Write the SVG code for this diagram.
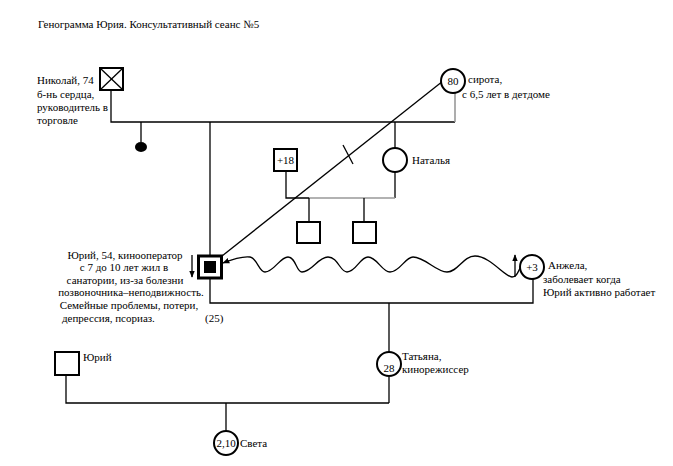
<svg xmlns="http://www.w3.org/2000/svg" width="673" height="466" viewBox="0 0 673 466">
<defs>
<style>
text{font-family:"Liberation Serif","DejaVu Serif",serif;font-size:11px;fill:#000}
.c{text-anchor:middle}
.n{fill:#fff;stroke:#000;stroke-width:2}
.l{fill:none;stroke:#000;stroke-width:1.3}
.g{fill:none;stroke:#999;stroke-width:1.6}
</style>
<marker id="ah" viewBox="0 0 10 10" refX="9" refY="5" markerWidth="7" markerHeight="7" orient="auto-start-reverse" markerUnits="userSpaceOnUse">
<path d="M0,1 L10,5 L0,9 Z" fill="#000"/>
</marker>
</defs>
<rect width="673" height="466" fill="#fff"/>
<g font-family="Liberation Serif, DejaVu Serif, serif" font-size="11">
<text x="38" y="28">Генограмма Юрия. Консультативный сеанс №5</text>

<g id="connectors">
<polyline class="l" points="111,90 111,122 455,122"/>
<line class="g" x1="455" y1="93" x2="455" y2="122"/>
<line class="l" x1="141" y1="122" x2="141" y2="142"/>
<line class="l" x1="210" y1="122" x2="210" y2="255"/>
<line class="l" x1="395" y1="122" x2="395" y2="148"/>
<line class="l" x1="395" y1="172" x2="395" y2="198"/>
<polyline class="l" points="286,171 286,198 309,198"/>
<line class="g" x1="309" y1="198" x2="395" y2="198"/>
<line class="l" x1="309" y1="198" x2="309" y2="222"/>
<line class="l" x1="364" y1="198" x2="364" y2="222"/>
<line class="l" x1="443" y1="81" x2="222" y2="256"/>
<line class="l" x1="343" y1="145" x2="353" y2="164"/>
<path class="l" marker-start="url(#ah)" d="M223,263 C233,259 242,256 250,257 C257,258 259,272 265,272 C274,272 280,257 288,257 C296,257 296,272 302,272 C312,272 318,257 328,257 C338,257 340,272 347,272 C356,272 360,257 368,257 C377,257 382,272 390,272 C400,272 405,257 413,257 C425,257 436,272 447,272 C458,272 463,256 475,256 C490,256 505,277 512,277 C517,277 518,272 520,268"/>
<line class="l" marker-end="url(#ah)" x1="192" y1="255" x2="192" y2="277"/>
<line class="l" marker-end="url(#ah)" x1="515" y1="277" x2="515" y2="255"/>
<polyline class="l" points="210,278 210,303 533,303 533,279"/>
<line class="l" x1="389" y1="303" x2="389" y2="352"/>
<line class="l" x1="389" y1="377" x2="389" y2="403"/>
<polyline class="l" points="66,375 66,403 389,403"/>
<line class="l" x1="226" y1="403" x2="226" y2="432"/>
</g>

<g id="nikolai">
<rect class="n" x="100" y="68" width="23" height="22"/>
<line class="l" x1="100" y1="68" x2="123" y2="90"/>
<line class="l" x1="123" y1="68" x2="100" y2="90"/>
<text x="37" y="84">Николай, 74</text>
<text x="37" y="98">б-нь сердца,</text>
<text x="37" y="111">руководитель в</text>
<text x="37" y="124">торговле</text>
</g>

<g id="miscarriage">
<ellipse cx="141" cy="147" rx="6" ry="5" fill="#000"/>
</g>

<g id="grandmother">
<circle class="n" cx="453" cy="81" r="12"/>
<text class="c" x="453" y="85">80</text>
<text x="468" y="83">сирота,</text>
<text x="462" y="98">с 6,5 лет в детдоме</text>
</g>

<g id="plus18">
<rect class="n" x="274" y="149" width="23" height="22"/>
<text class="c" x="285.5" y="164">+18</text>
</g>

<g id="natalya">
<circle class="n" cx="395" cy="160" r="12"/>
<text x="412" y="164">Наталья</text>
</g>

<g id="child1">
<rect class="n" x="297" y="222" width="23" height="21"/>
</g>
<g id="child2">
<rect class="n" x="353" y="222" width="23" height="21"/>
</g>

<g id="yuri">
<rect x="198.5" y="256" width="23" height="22" fill="#fff" stroke="#000" stroke-width="3"/>
<rect x="204" y="261" width="12" height="12" fill="#000"/>
<text class="c" x="125" y="259">Юрий, 54, кинооператор</text>
<text class="c" x="124" y="271">с 7 до 10 лет жил в</text>
<text class="c" x="125" y="284">санатории, из-за болезни</text>
<text class="c" x="131" y="296">позвоночника–неподвижность.</text>
<text class="c" x="129" y="309">Семейные проблемы, потери,</text>
<text x="62" y="322">депрессия, псориаз.</text>
<text x="205" y="322">(25)</text>
</g>

<g id="anzhela">
<circle class="n" cx="532" cy="267" r="12"/>
<text class="c" x="532" y="271">+3</text>
<text x="548" y="269">Анжела,</text>
<text x="543" y="283">заболевает когда</text>
<text x="543" y="296">Юрий активно работает</text>
</g>

<g id="tatyana">
<circle class="n" cx="389" cy="364" r="12"/>
<text class="c" x="389" y="372">28</text>
<text x="402" y="360">Татьяна,</text>
<text x="402" y="373">кинорежиссер</text>
</g>

<g id="yuri2">
<rect class="n" x="55" y="352" width="24" height="23"/>
<text x="83" y="361">Юрий</text>
</g>

<g id="sveta">
<circle class="n" cx="226" cy="443" r="12"/>
<text class="c" x="226" y="447">2,10</text>
<text x="240" y="447">Света</text>
</g>
</g>
</svg>
